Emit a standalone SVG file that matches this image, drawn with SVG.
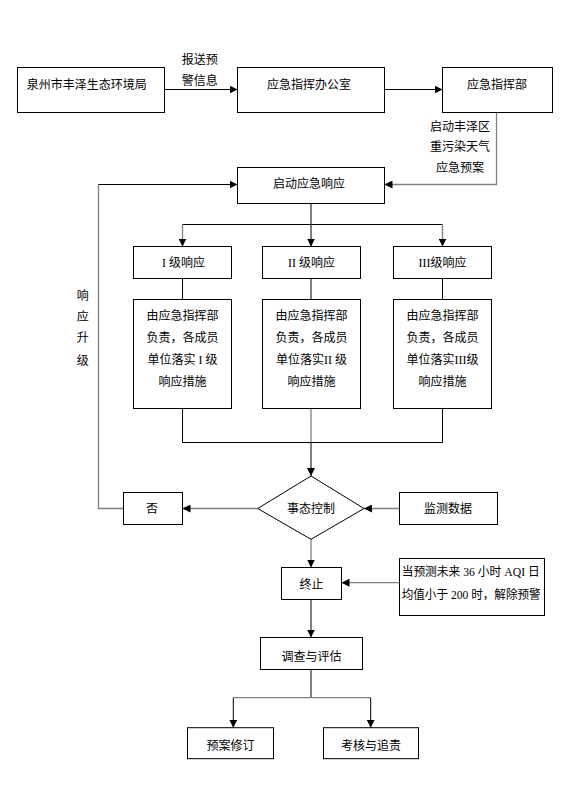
<svg xmlns="http://www.w3.org/2000/svg" width="566" height="801" viewBox="0 0 566 801">
<style>
.box{fill:#fff;stroke:#000;stroke-width:1}
.t{font-family:"Noto Sans CJK SC","Noto Sans CJK JP",sans-serif;font-size:12px;fill:#000}
.c{text-anchor:middle}
.r{font-family:"Liberation Serif",serif}
.ln{fill:none;stroke:#000;stroke-width:1}
.g{fill:none;stroke:#808080;stroke-width:1.3}
</style>
<defs>
<marker id="ah" viewBox="0 0 8 8" refX="8" refY="4" markerWidth="8" markerHeight="8" markerUnits="userSpaceOnUse" orient="auto">
<path d="M0,0 L8,4 L0,8 z" fill="#000"/>
</marker>
</defs>
<rect width="566" height="801" fill="#fff"/>
<g id="connectors">
<path class="ln" d="M164.5,89.5 H237.5" marker-end="url(#ah)"/>
<path class="ln" d="M384.5,89.5 H442.5" marker-end="url(#ah)"/>
<path class="g" d="M496.5,112.5 V184.5 H384.5" marker-end="url(#ah)"/>
<path class="g" d="M123.5,508.5 H98.5 V184.5"/>
<path class="ln" d="M98.5,184.5 H237.5" marker-end="url(#ah)"/>
<path class="ln" d="M311,203.5 V224.5"/>
<path class="ln" d="M182.5,224.5 H442.5"/>
<path class="g" d="M182.5,224.5 V246.5" marker-end="url(#ah)"/>
<path class="ln" d="M311,224.5 V246.5" marker-end="url(#ah)"/>
<path class="g" d="M442.5,224.5 V246.5" marker-end="url(#ah)"/>
<path class="ln" d="M182.5,278.5 V299.5"/>
<path class="ln" d="M311,278.5 V299.5"/>
<path class="ln" d="M442.5,278.5 V299.5"/>
<path class="ln" d="M182.5,408.5 V442.5 H442.5 V408.5"/>
<path class="g" d="M311,408.5 V442.5"/>
<path class="ln" d="M311,442.5 V476" marker-end="url(#ah)"/>
<path class="g" d="M257.7,508.5 H182.5" marker-end="url(#ah)"/>
<path class="g" d="M399.5,508.5 H364" marker-end="url(#ah)"/>
<path class="g" d="M311,539.3 V567.5" marker-end="url(#ah)"/>
<path class="g" d="M399.5,582.7 H341.5" marker-end="url(#ah)"/>
<path class="ln" d="M311,599.5 V637.5" marker-end="url(#ah)"/>
<path class="ln" d="M311,669.5 V697.7"/>
<path class="g" d="M233.3,697.7 H370.7"/>
<path class="ln" d="M233.3,697.7 V727.7" marker-end="url(#ah)"/>
<path class="ln" d="M370.7,697.7 V727.7" marker-end="url(#ah)"/>
</g>
<g id="label-baosong">
<text class="t" x="181.7" y="63.5">报送预</text>
<text class="t" x="181.7" y="85">警信息</text>
</g>
<g id="label-qidong">
<text class="t c" x="460" y="130.5">启动丰泽区</text>
<text class="t c" x="460" y="151">重污染天气</text>
<text class="t c" x="460" y="172">应急预案</text>
</g>
<g id="label-shengji">
<text class="t c" x="82.7" y="299.5">响</text>
<text class="t c" x="82.7" y="321.2">应</text>
<text class="t c" x="82.7" y="342.2">升</text>
<text class="t c" x="82.7" y="364.5">级</text>
</g>
<g id="n-huanjingju">
<rect class="box" x="17.5" y="67.5" width="147" height="45"/>
<text class="t" x="26.7" y="88.5">泉州市丰泽生态环境局</text>
</g>
<g id="n-bangongshi">
<rect class="box" x="237.5" y="67.5" width="147" height="45"/>
<text class="t c" x="309" y="88.5">应急指挥办公室</text>
</g>
<g id="n-zhihuibu">
<rect class="box" x="442.5" y="67.5" width="110" height="45"/>
<text class="t c" x="497" y="88.5">应急指挥部</text>
</g>
<g id="n-qidongxiangying">
<rect class="box" x="237.5" y="167.5" width="147" height="36"/>
<text class="t c" x="309" y="187.8">启动应急响应</text>
</g>
<g id="n-level1">
<rect class="box" x="133.5" y="246.5" width="98" height="32"/>
<text class="t c" x="183.5" y="266.8"><tspan class="r">I </tspan>级响应</text>
</g>
<g id="n-level2">
<rect class="box" x="262.5" y="246.5" width="98" height="32"/>
<text class="t c" x="311.5" y="266.8"><tspan class="r">II </tspan>级响应</text>
</g>
<g id="n-level3">
<rect class="box" x="393.5" y="246.5" width="98" height="32"/>
<text class="t c" x="442.5" y="266.8"><tspan class="r">III</tspan>级响应</text>
</g>
<g id="n-detail1">
<rect class="box" x="133.5" y="299.5" width="98" height="109"/>
<text class="t c" x="182.5" y="320.2">由应急指挥部</text>
<text class="t c" x="182.5" y="341.8">负责，各成员</text>
<text class="t c" x="182.5" y="363.8">单位落实<tspan class="r"> I </tspan>级</text>
<text class="t c" x="182.5" y="386.2">响应措施</text>
</g>
<g id="n-detail2">
<rect class="box" x="262.5" y="299.5" width="98" height="109"/>
<text class="t c" x="311.5" y="320.2">由应急指挥部</text>
<text class="t c" x="311.5" y="341.8">负责，各成员</text>
<text class="t c" x="311.5" y="363.8">单位落实<tspan class="r">II </tspan>级</text>
<text class="t c" x="311.5" y="386.2">响应措施</text>
</g>
<g id="n-detail3">
<rect class="box" x="393.5" y="299.5" width="98" height="109"/>
<text class="t c" x="442.5" y="320.2">由应急指挥部</text>
<text class="t c" x="442.5" y="341.8">负责，各成员</text>
<text class="t c" x="442.5" y="363.8">单位落实<tspan class="r">III</tspan>级</text>
<text class="t c" x="442.5" y="386.2">响应措施</text>
</g>
<g id="n-shitai">
<polygon class="box" points="311,476 364,508.5 311,539.3 257.7,508.5"/>
<text class="t c" x="311" y="512.8">事态控制</text>
</g>
<g id="n-fou">
<rect class="box" x="123.5" y="492.5" width="59" height="32"/>
<text class="t c" x="152" y="513.3">否</text>
</g>
<g id="n-jiance">
<rect class="box" x="399.5" y="492.5" width="98" height="32"/>
<text class="t c" x="448" y="513.3">监测数据</text>
</g>
<g id="n-zhongzhi">
<rect class="box" x="281.5" y="567.5" width="60" height="32"/>
<text class="t c" x="311.5" y="588.5">终止</text>
</g>
<g id="n-note">
<rect class="box" x="399.5" y="558.5" width="145" height="57"/>
<text class="t" x="401.7" y="575.5" textLength="138" lengthAdjust="spacingAndGlyphs">当预测未来<tspan class="r"> 36 </tspan>小时<tspan class="r"> AQI </tspan>日</text>
<text class="t" x="401.7" y="598.5" textLength="139" lengthAdjust="spacingAndGlyphs">均值小于<tspan class="r"> 200 </tspan>时，解除预警</text>
</g>
<g id="n-diaocha">
<rect class="box" x="260.5" y="637.5" width="102" height="32"/>
<text class="t c" x="311.5" y="660.5">调查与评估</text>
</g>
<g id="n-xiuding">
<rect class="box" x="187.5" y="727.7" width="86" height="31"/>
<text class="t c" x="230.5" y="750.3">预案修订</text>
</g>
<g id="n-kaohe">
<rect class="box" x="323.5" y="727.7" width="95" height="31"/>
<text class="t c" x="371" y="750.3">考核与追责</text>
</g>
</svg>
